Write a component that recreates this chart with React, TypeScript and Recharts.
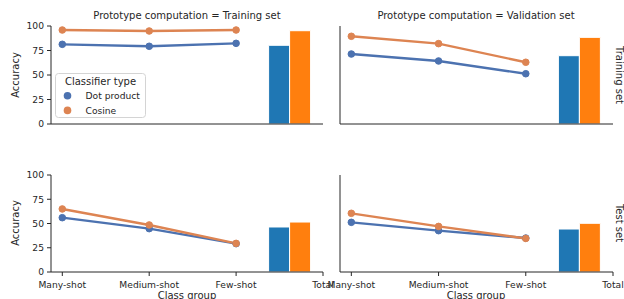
import { ComposedChart, Line, Bar, XAxis, YAxis, Legend } from "recharts";

const classGroups = ["Many-shot", "Medium-shot", "Few-shot", "Total"];
const groupTicks = [0, 1, 2, 3];
const totalBarPos = 2.61;
const yTicks = [0, 25, 50, 75, 100];

const colTitles = ["Prototype computation = Training set", "Prototype computation = Validation set"];
const rowTitles = ["Training set", "Test set"];
const seriesNames = ["Dot product", "Cosine"];

// evaluated on training set
const trainTrainDot = [81.3, 79.3, 82.3];
const trainTrainCos = [95.9, 94.9, 95.9];
const trainTrainTotal = [80.3, 95.2];
const trainValDot = [71.4, 64.3, 51.3];
const trainValCos = [89.5, 82, 63];
const trainValTotal = [69.7, 88.4];

// evaluated on test set
const testTrainDot = [56, 44.7, 29.2];
const testTrainCos = [65, 48.5, 29.5];
const testTrainTotal = [46.4, 51.5];
const testValDot = [51.2, 42.6, 35];
const testValCos = [60.5, 47, 34.6];
const testValTotal = [44.3, 50.2];

const LINE_BLUE = "#4c72b0";
const LINE_ORANGE = "#dd8452";
const BAR_BLUE = "#1f77b4";
const BAR_ORANGE = "#ff7f0e";
const INK = "#262626";
const FONT = "DejaVu Sans";

function buildRows(dot: number[], cos: number[], total: number[]) {
  const rows: any[] = dot.map((d, i) => ({ x: groupTicks[i], dot: d, cos: cos[i] }));
  rows.push({ x: totalBarPos, dotTotal: total[0], cosTotal: total[1] });
  return rows;
}

const LegendBox = (props: any) => {
  const items = (props.payload || [])
    .filter((p: any) => p.type !== "none")
    .sort((a: any, b: any) => seriesNames.indexOf(a.value) - seriesNames.indexOf(b.value));
  return (
    <svg width={92} height={46} style={{ display: "block" }}>
      <rect x={0.5} y={0.5} width={90} height={44} rx={3} fill="#fff" fillOpacity={0.8} stroke="#d4d4d4" />
      <text x={45.5} y={12} textAnchor="middle" fontSize={10} fill={INK} fontFamily={FONT}>
        Classifier type
      </text>
      {items.map((p: any, i: number) => (
        <g key={p.value}>
          <circle cx={12.5} cy={22.7 + i * 14.7} r={3.8} fill={p.color} />
          <text x={30.5} y={25.9 + i * 14.7} fontSize={9.17} fill={INK} fontFamily={FONT}>
            {p.value}
          </text>
        </g>
      ))}
    </svg>
  );
};

type PanelProps = {
  rows: any[];
  left: number;
  top: number;
  width: number;
  height: number;
  margin: { top: number; right: number; bottom: number; left: number };
  yWidth: number;
  xHeight: number;
  yLabels: boolean;
  xLabels: boolean;
  legend?: boolean;
};

function Panel(p: PanelProps) {
  const tickFont = { fontSize: 9.17, fill: INK, fontFamily: FONT };
  return (
    <div style={{ position: "absolute", left: p.left, top: p.top }}>
      <ComposedChart width={p.width} height={p.height} data={p.rows} margin={p.margin} barGap={0}>
        <XAxis
          dataKey="x"
          type="number"
          domain={[-0.13, 3]}
          allowDataOverflow
          ticks={groupTicks}
          interval={0}
          height={p.xHeight}
          tickSize={4}
          tickMargin={5}
          tick={p.xLabels ? tickFont : false}
          tickFormatter={(v: number) => classGroups[groupTicks.indexOf(v)] ?? ""}
          axisLine={{ stroke: INK }}
          tickLine={{ stroke: INK }}
        />
        <YAxis
          type="number"
          domain={[0, 100]}
          ticks={yTicks}
          interval={0}
          width={p.yWidth}
          tickSize={4}
          tickMargin={3}
          tick={p.yLabels ? tickFont : false}
          axisLine={{ stroke: INK }}
          tickLine={{ stroke: INK }}
        />
        {p.legend && (
          <Legend
            layout="horizontal"
            verticalAlign="middle"
            align="center"
            content={<LegendBox />}
            wrapperStyle={{ left: 55, top: 73, width: 92, height: 46 }}
          />
        )}
        <Bar dataKey="dotTotal" fill={BAR_BLUE} stroke="#fff" strokeWidth={1} barSize={21} legendType="none" isAnimationActive={false} />
        <Bar dataKey="cosTotal" fill={BAR_ORANGE} stroke="#fff" strokeWidth={1} barSize={21} legendType="none" isAnimationActive={false} />
        <Line
          dataKey="dot"
          name={seriesNames[0]}
          stroke={LINE_BLUE}
          strokeWidth={2.4}
          dot={{ r: 3.3, fill: LINE_BLUE, stroke: LINE_BLUE, strokeWidth: 1 }}
          legendType="circle"
          isAnimationActive={false}
        />
        <Line
          dataKey="cos"
          name={seriesNames[1]}
          stroke={LINE_ORANGE}
          strokeWidth={2.4}
          dot={{ r: 3.3, fill: LINE_ORANGE, stroke: LINE_ORANGE, strokeWidth: 1 }}
          legendType="circle"
          isAnimationActive={false}
        />
      </ComposedChart>
    </div>
  );
}

export default function App() {
  const textStyle = { fontFamily: FONT, fill: INK };
  return (
    <div style={{ position: "absolute", left: 0, top: 0, width: 624, height: 299, overflow: "hidden", background: "#fff" }}>
      <Panel
        rows={buildRows(trainTrainDot, trainTrainCos, trainTrainTotal)}
        left={0}
        top={0}
        width={340}
        height={140}
        margin={{ top: 26, right: 17, bottom: 0, left: 0 }}
        yWidth={51}
        xHeight={16}
        yLabels
        xLabels={false}
        legend
      />
      <Panel
        rows={buildRows(trainValDot, trainValCos, trainValTotal)}
        left={300}
        top={0}
        width={324}
        height={140}
        margin={{ top: 26, right: 11, bottom: 0, left: 0 }}
        yWidth={40}
        xHeight={16}
        yLabels={false}
        xLabels={false}
      />
      <Panel
        rows={buildRows(testTrainDot, testTrainCos, testTrainTotal)}
        left={0}
        top={150}
        width={340}
        height={150}
        margin={{ top: 25, right: 17, bottom: 0, left: 0 }}
        yWidth={51}
        xHeight={28}
        yLabels
        xLabels
      />
      <Panel
        rows={buildRows(testValDot, testValCos, testValTotal)}
        left={300}
        top={150}
        width={324}
        height={150}
        margin={{ top: 25, right: 11, bottom: 0, left: 0 }}
        yWidth={40}
        xHeight={28}
        yLabels={false}
        xLabels
      />
      <svg width={624} height={299} style={{ position: "absolute", left: 0, top: 0, pointerEvents: "none" }}>
        <text x={187} y={19} textAnchor="middle" fontSize={10} {...textStyle}>{colTitles[0]}</text>
        <text x={476} y={19} textAnchor="middle" fontSize={10} {...textStyle}>{colTitles[1]}</text>
        <text transform="translate(19,75) rotate(-90)" textAnchor="middle" fontSize={10} {...textStyle}>Accuracy</text>
        <text transform="translate(19,223) rotate(-90)" textAnchor="middle" fontSize={10} {...textStyle}>Accuracy</text>
        <text transform="translate(616,75) rotate(90)" textAnchor="middle" fontSize={10} {...textStyle}>{rowTitles[0]}</text>
        <text transform="translate(616,223) rotate(90)" textAnchor="middle" fontSize={10} {...textStyle}>{rowTitles[1]}</text>
        <text x={187} y={299} textAnchor="middle" fontSize={10} {...textStyle}>Class group</text>
        <text x={476} y={299} textAnchor="middle" fontSize={10} {...textStyle}>Class group</text>
      </svg>
    </div>
  );
}
